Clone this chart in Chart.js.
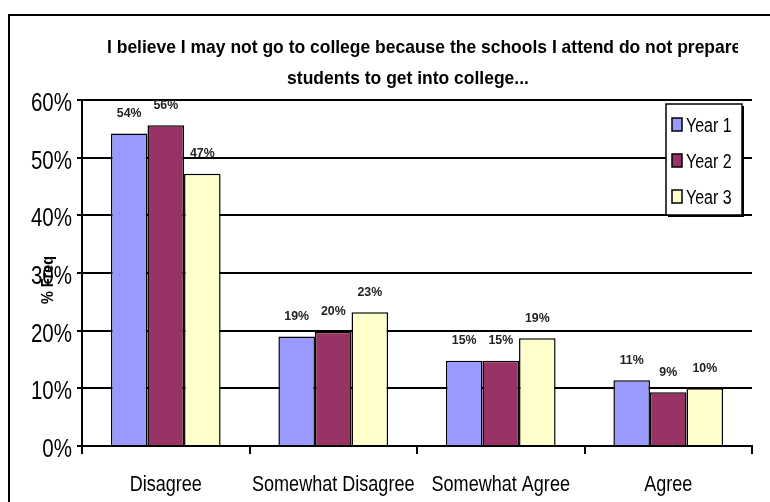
<!DOCTYPE html>
<html>
<head>
<meta charset="utf-8">
<script src="https://cdn.jsdelivr.net/npm/chart.js@4.4.1/dist/chart.umd.min.js"></script>
<style>
  html, body { margin: 0; padding: 0; background: #fff; }
</style>
</head>
<body>
<canvas id="myChart" width="770" height="502"></canvas>
<script>
// chart data
const categories = ['Disagree', 'Somewhat Disagree', 'Somewhat Agree', 'Agree'];
const seriesNames = ['Year 1', 'Year 2', 'Year 3'];
const year1 = [54.2, 19.0, 14.8, 11.4];
const year2 = [55.6, 19.8, 14.8, 9.3];
const year3 = [47.2, 23.2, 18.7, 10.0];
const yTicks = [0, 10, 20, 30, 40, 50, 60];
const titleLines = ['I believe I may not go to college because the schools I attend do not prepare',
                    'students to get into college...'];
const yTitle = '% Freq';

const colors = ['#9999FF', '#993366', '#FFFFCC'];
const font = "'Liberation Sans', Arial, sans-serif";

// draw text squeezed horizontally (fake "Arial Narrow")
function narrowText(ctx, text, x, y, align, sx) {
    ctx.save();
    ctx.translate(x, y);
    ctx.scale(sx || 0.82, 1);
    ctx.textAlign = align;
    ctx.fillText(text, 0, 0);
    ctx.restore();
}

// extra drawing: frame, title, tick labels, axis title, value labels, legend
const extras = {
    id: 'extras',
    afterDraw(chart) {
        const ctx = chart.ctx;
        const xs = chart.scales.x, ys = chart.scales.y;
        ctx.save();

        // outer frame
        ctx.strokeStyle = '#000';
        ctx.lineWidth = 2;
        ctx.beginPath();
        ctx.moveTo(9, 510);
        ctx.lineTo(9, 15);
        ctx.lineTo(780, 15);
        ctx.stroke();

        ctx.fillStyle = '#000';
        ctx.textBaseline = 'alphabetic';

        // title (first line runs past its box and gets cut)
        ctx.font = 'bold 19px ' + font;
        ctx.save();
        ctx.beginPath();
        ctx.rect(0, 25, 738, 35);
        ctx.clip();
        narrowText(ctx, titleLines[0], 107, 53, 'left', 0.92);
        ctx.restore();
        narrowText(ctx, titleLines[1], 408, 84, 'center', 0.92);

        // y tick labels
        ctx.font = '25px ' + font;
        yTicks.forEach(v => {
            narrowText(ctx, v + '%', 72, ys.getPixelForValue(v) + 11, 'right');
        });

        // x tick labels
        ctx.font = '22px ' + font;
        categories.forEach((c, i) => {
            narrowText(ctx, c, xs.getPixelForTick(i), 491, 'center');
        });

        // y axis title
        ctx.save();
        ctx.translate(53, 280);
        ctx.rotate(-Math.PI / 2);
        ctx.font = 'bold 17px ' + font;
        narrowText(ctx, yTitle, 0, 0, 'center', 0.85);
        ctx.restore();

        // value labels
        ctx.font = 'bold 13px ' + font;
        ctx.fillStyle = '#222';
        ctx.textBaseline = 'middle';
        chart.data.datasets.forEach((ds, i) => {
            chart.getDatasetMeta(i).data.forEach((bar, j) => {
                narrowText(ctx, Math.round(ds.data[j]) + '%', bar.x, bar.y - 20, 'center', 0.95);
            });
        });
        ctx.textBaseline = 'alphabetic';

        // legend
        const lx = 666, ly = 104, lw = 76, lh = 111;
        ctx.fillStyle = '#000';
        ctx.fillRect(lx + 2, ly + 2, lw, lh);
        ctx.fillStyle = '#fff';
        ctx.fillRect(lx, ly, lw, lh);
        ctx.strokeStyle = '#000';
        ctx.lineWidth = 1.5;
        ctx.strokeRect(lx, ly, lw, lh);
        ctx.font = '20px ' + font;
        seriesNames.forEach((name, i) => {
            const cy = 124.5 + i * 36;
            ctx.fillStyle = colors[i];
            ctx.fillRect(672, cy - 6.5, 10, 13);
            ctx.lineWidth = 1.5;
            ctx.strokeRect(672, cy - 6.5, 10, 13);
            ctx.fillStyle = '#000';
            narrowText(ctx, name, 686, cy + 7, 'left', 0.8);
        });

        ctx.restore();
    }
};

const myChart = document.getElementById('myChart').getContext('2d');

const dataChart = new Chart(myChart, {
    type: 'bar',
    data: {
        labels: categories,
        datasets: [year1, year2, year3].map((vals, i) => ({
            label: seriesNames[i],
            data: vals,
            backgroundColor: colors[i],
            borderColor: '#000',
            borderWidth: 1.5,
            barPercentage: 1,
            categoryPercentage: 0.655
        }))
    },
    options: {
        responsive: false,
        animation: false,
        events: [],
        layout: {
            padding: { left: 0, top: 100, right: 18, bottom: 0 }
        },
        plugins: {
            legend: { display: false },
            title: { display: false },
            tooltip: { enabled: false }
        },
        scales: {
            x: {
                grid: {
                    drawOnChartArea: false,
                    drawTicks: true,
                    tickLength: 8,
                    color: '#000',
                    lineWidth: 2,
                    offset: true
                },
                border: { color: '#000', width: 2 },
                ticks: { display: false },
                afterFit(scale) { scale.height = 56; }
            },
            y: {
                min: yTicks[0],
                max: yTicks[yTicks.length - 1],
                afterBuildTicks(scale) {
                    scale.ticks = yTicks.map(v => ({ value: v }));
                },
                grid: {
                    color: '#000',
                    lineWidth: 2,
                    tickLength: 5
                },
                border: { color: '#000', width: 2 },
                ticks: { display: false },
                afterFit(scale) { scale.width = 82; }
            }
        }
    },
    plugins: [extras]
});
</script>
</body>
</html>
